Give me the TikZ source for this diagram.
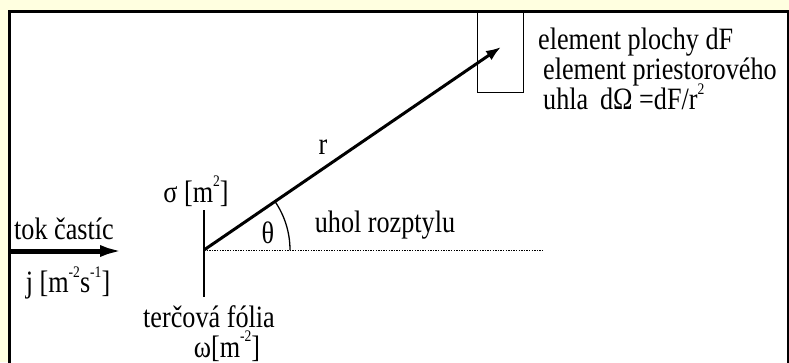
\documentclass[tikz,border=0pt]{standalone}
\usepackage{fontspec}
\usepackage{graphicx}
\setmainfont{Liberation Serif}
\usetikzlibrary{arrows.meta}
\definecolor{bgyellow}{RGB}{255,255,224}
\newcommand\supx[1]{\raisebox{0.5em}{\fontsize{14}{14}\selectfont #1}}
\newcommand\tall[1]{\scalebox{0.97}[1.15]{#1}}
\begin{document}
\begin{tikzpicture}[x=1pt,y=-1pt,
  lbl/.style={inner sep=0pt,font=\fontsize{27}{30}\selectfont},
  thinline/.style={line width=1.3pt},
]
\fill[bgyellow] (0,0) rectangle (789,362);
\useasboundingbox (0,0) rectangle (789,362);
\fill[white] (9,11) rectangle (788,364);
\draw[line width=3pt] (9,364) -- (9,11) -- (788,11) -- (788,364);

% coordinates
\coordinate (O) at (204,250);
\coordinate (Ftop) at (204,210);
\coordinate (Fbot) at (204,297);
\coordinate (D) at (544,250);
\coordinate (T) at (501,47);
\coordinate (A0) at (9,251);
\coordinate (A1) at (124,251);

% element box
\node[draw,thinline,minimum width=46pt,minimum height=80pt,inner sep=0pt,anchor=north west] (box) at (477,12) {};

% foil and lines
\draw[line width=1.5pt] (Ftop) -- (Fbot);
\draw[line width=0.9pt,dash pattern=on 1.3pt off 1.3pt] (O) -- (D);
\draw[line width=3pt,-{Latex[length=15pt,width=11pt]}] (O) -- (T);
\draw[thinline] ([shift={(0:86)}]O) arc[start angle=0,end angle=-34.5,radius=86];
\draw[line width=5pt,-{Latex[length=24pt,width=12pt]}] (A0) -- (A1);

% labels
\node[lbl] (tok) at (64,229) {\tall{tok častíc}};
\node[lbl] (j) at (68,283) {\tall{j [m\supx{-2}s\supx{-1}]}};
\node[lbl] (sigma) at (196,191) {\tall{σ [m\supx{2}]}};
\node[lbl] (theta) at (268,233) {\tall{θ}};
\node[lbl] (uhol) at (385,225) {\tall{uhol rozptylu}};
\node[lbl] (r) at (323,147) {\tall{r}};
\node[lbl] (folia) at (209,317) {\tall{terčová fólia}};
\node[lbl] (omega) at (227,346) {\tall{ω[m\supx{-2}]}};
\node[lbl,anchor=west] (el1) at (538,42) {\tall{element plochy dF}};
\node[lbl,anchor=west] (el2) at (543,72) {\tall{element priestorového}};
\node[lbl,anchor=west] (el3) at (543,97) {\tall{uhla\hspace{0.45em}dΩ =dF/r\supx{2}}};
\end{tikzpicture}
\end{document}
